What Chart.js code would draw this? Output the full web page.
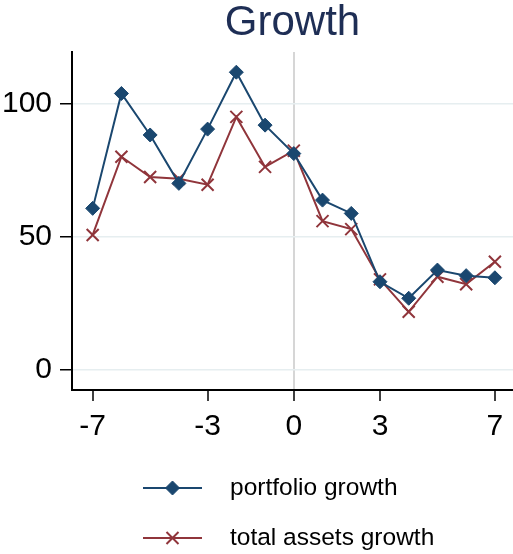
<!DOCTYPE html>
<html>
<head>
<meta charset="utf-8">
<script src="https://cdn.jsdelivr.net/npm/chart.js@4"></script>
<style>
html,body{margin:0;padding:0;background:#fff;}
#c{display:block;}
</style>
</head>
<body>
<canvas id="c" width="513" height="554"></canvas>
<script>
const periods = [-7, -6, -5, -4, -3, -2, -1, 0, 1, 2, 3, 4, 5, 6, 7];
const portfolioGrowth = [60.6, 103.8, 88.2, 70.0, 90.4, 111.8, 91.9, 81.2, 63.7, 58.7, 33.0, 26.8, 37.4, 35.3, 34.5];
const totalAssetsGrowth = [50.6, 80.0, 72.4, 71.7, 69.5, 95.0, 76.2, 82.3, 55.8, 52.8, 33.9, 21.7, 34.9, 32.1, 40.5];
const xTicks = [-7, -3, 0, 3, 7];
const yTicks = [0, 50, 100];
const seriesLabels = ['portfolio growth', 'total assets growth'];
const titleText = 'Growth';

const FONT = "'Liberation Sans', Arial, Helvetica, sans-serif";
const BLUE = '#1a476f';
const RED = '#90353b';

const toPoints = (vals) => periods.map((p, i) => ({x: p, y: vals[i]}));

const legendPlugin = {
  id: 'stackedLegend',
  afterDraw(chart) {
    const ctx = chart.ctx;
    ctx.save();
    chart.data.datasets.forEach((ds, i) => {
      const y = 488 + 50 * i;
      ctx.strokeStyle = ds.borderColor;
      ctx.lineWidth = ds.borderWidth;
      ctx.beginPath();
      ctx.moveTo(143, y);
      ctx.lineTo(202, y);
      ctx.stroke();
      ctx.fillStyle = ds.pointBackgroundColor;
      ctx.strokeStyle = ds.pointBorderColor;
      ctx.lineWidth = ds.pointBorderWidth;
      Chart.helpers.drawPoint(ctx, {
        pointStyle: ds.pointStyle,
        radius: ds.pointRadius,
        rotation: 0,
        borderWidth: ds.pointBorderWidth
      }, 172.5, y);
      ctx.fillStyle = '#000';
      ctx.font = '24.5px ' + FONT;
      ctx.textBaseline = 'middle';
      ctx.textAlign = 'left';
      ctx.fillText(ds.label, 230, y);
    });
    ctx.restore();
  }
};

new Chart(document.getElementById('c'), {
  type: 'line',
  data: {
    datasets: [
      {
        label: seriesLabels[0],
        data: toPoints(portfolioGrowth),
        borderColor: BLUE,
        backgroundColor: BLUE,
        borderWidth: 2,
        pointStyle: 'rectRot',
        pointRadius: 7,
        pointBorderWidth: 1,
        pointBackgroundColor: BLUE,
        pointBorderColor: BLUE,
        tension: 0
      },
      {
        label: seriesLabels[1],
        data: toPoints(totalAssetsGrowth),
        borderColor: RED,
        backgroundColor: RED,
        borderWidth: 2,
        pointStyle: 'crossRot',
        pointRadius: 8.5,
        pointBorderWidth: 2,
        pointBackgroundColor: RED,
        pointBorderColor: RED,
        tension: 0
      }
    ]
  },
  options: {
    responsive: false,
    animation: false,
    devicePixelRatio: 1,
    layout: {padding: 0, autoPadding: false},
    plugins: {
      legend: {display: false},
      tooltip: {enabled: false},
      title: {
        display: true,
        text: titleText,
        fullSize: false,
        color: '#1e2e55',
        font: {family: FONT, size: 42, weight: 'normal', lineHeight: 1.0},
        padding: {top: 2, bottom: 8}
      }
    },
    scales: {
      x: {
        type: 'linear',
        min: -7.72,
        max: 7.63,
        afterBuildTicks: (s) => { s.ticks = xTicks.map(v => ({value: v})); },
        afterFit: (s) => { s.height = 164; s.paddingLeft = 0; s.paddingRight = 0; },
        ticks: {
          color: '#000',
          font: {family: FONT, size: 30},
          padding: 8,
          maxRotation: 0,
          autoSkip: false
        },
        grid: {
          color: (c) => (c.tick && c.tick.value === 0) ? '#d6d6d6' : 'rgba(0,0,0,0)',
          lineWidth: 2,
          tickColor: '#000',
          tickLength: 11,
          tickWidth: 1.5
        },
        border: {display: true, color: '#000', width: 2}
      },
      y: {
        type: 'linear',
        min: -7.7,
        max: 119.4,
        afterBuildTicks: (s) => { s.ticks = yTicks.map(v => ({value: v})); },
        afterFit: (s) => { s.width = 72; s.paddingTop = 0; s.paddingBottom = 0; },
        ticks: {
          color: '#000',
          font: {family: FONT, size: 30},
          padding: 8,
          autoSkip: false
        },
        grid: {
          color: '#e6eef0',
          lineWidth: 1.5,
          tickColor: '#000',
          tickLength: 12,
          tickWidth: 1.5
        },
        border: {display: true, color: '#000', width: 2}
      }
    }
  },
  plugins: [legendPlugin]
});
</script>
</body>
</html>
